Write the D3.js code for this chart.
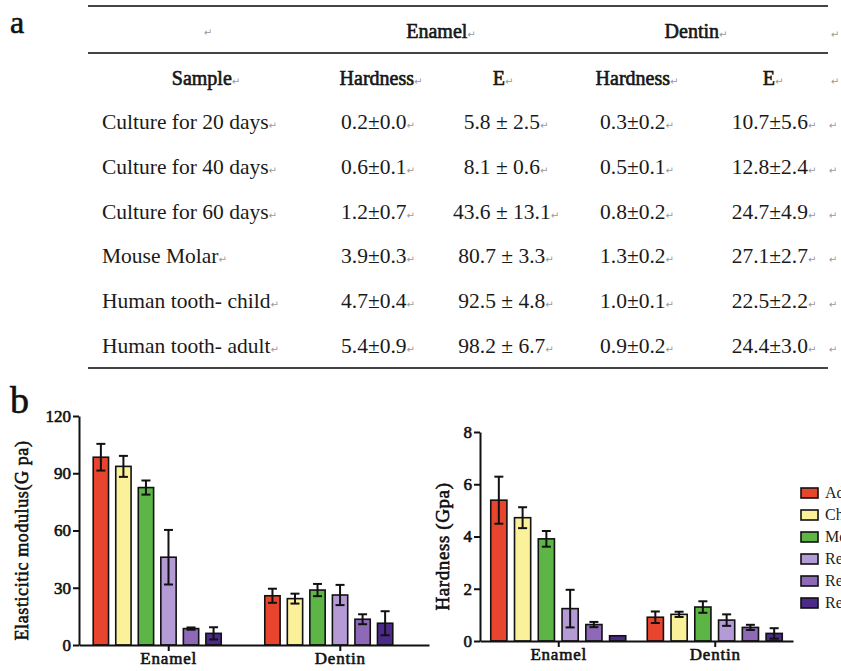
<!DOCTYPE html>
<html>
<head>
<meta charset="utf-8">
<script src="https://cdn.jsdelivr.net/npm/d3@7"></script>
<style>
  body { margin: 0; background: #fff; }
  svg { display: block; }
  /* Times-like bold: the serif bold face falls back to sans here */
  .fb { font-weight: normal; stroke: #111; stroke-width: 0.6px; }
</style>
</head>
<body>
<script>
// table (panel a)
const samples = [
  "Culture for 20 days",
  "Culture for 40 days",
  "Culture for 60 days",
  "Mouse Molar",
  "Human tooth- child",
  "Human tooth- adult",
];
const enamelHardness = ["0.2±0.0", "0.6±0.1", "1.2±0.7", "3.9±0.3", "4.7±0.4", "5.4±0.9"];
const enamelE = ["5.8 ± 2.5", "8.1 ± 0.6", "43.6 ± 13.1", "80.7 ± 3.3", "92.5 ± 4.8", "98.2 ± 6.7"];
const dentinHardness = ["0.3±0.2", "0.5±0.1", "0.8±0.2", "1.3±0.2", "1.0±0.1", "0.9±0.2"];
const dentinE = ["10.7±5.6", "12.8±2.4", "24.7±4.9", "27.1±2.7", "22.5±2.2", "24.4±3.0"];

// bar charts (panel b)
const groups = ["Enamel", "Dentin"];
const series = ["Adult", "Child", "Mouse", "Rec 60 d", "Rec 40 d", "Rec 20 d"];
const colors = ["#e8452f", "#fbf19a", "#5db545", "#b49bd6", "#8d69b8", "#4c2a8a"];

const modulusEnamel = [98.4, 93.6, 82.5, 46.0, 8.6, 6.1];
const modulusEnamelErr = [7.0, 5.5, 3.7, 14.3, 0.6, 3.2];
const modulusDentin = [25.8, 24.3, 28.8, 26.2, 13.5, 11.4];
const modulusDentinErr = [3.7, 2.6, 3.2, 5.3, 2.6, 6.3];

const hardnessEnamel = [5.39, 4.72, 3.91, 1.24, 0.63, 0.2];
const hardnessEnamelErr = [0.9, 0.4, 0.3, 0.72, 0.1, 0];
const hardnessDentin = [0.91, 1.02, 1.3, 0.8, 0.52, 0.29];
const hardnessDentinErr = [0.22, 0.1, 0.22, 0.22, 0.1, 0.2];

const modulusTicks = [0, 30, 60, 90, 120];
const hardnessTicks = [0, 2, 4, 6, 8];

const serif = "'Liberation Serif', 'Times New Roman', serif";
const W = 841, H = 671;

const svg = d3.select("body").append("svg")
  .attr("width", W)
  .attr("height", H)
  .attr("viewBox", [0, 0, W, H]);

// paragraph mark like in the Word table
const mark = (text) =>
  text.append("tspan")
    .attr("font-family", "'DejaVu Sans', sans-serif")
    .attr("font-size", 10)
    .attr("stroke", "none")
    .attr("fill", "#999")
    .text("↵");

// ---------- panel a ----------
svg.append("text")
  .attr("class", "fb")
  .attr("x", 10).attr("y", 33)
  .attr("font-family", serif).attr("font-size", 32)
  .attr("fill", "#111")
  .text("a");

const rule = (y) => svg.append("line")
  .attr("x1", 88).attr("x2", 828).attr("y1", y).attr("y2", y)
  .attr("stroke", "#444").attr("stroke-width", 2);
rule(6);
rule(53);
rule(368);

const table = svg.append("g").attr("font-family", serif).attr("fill", "#1a1a1a");

const headCell = (x, y, label) => {
  const t = table.append("text")
    .attr("x", x).attr("y", y)
    .attr("text-anchor", "middle")
    .attr("font-size", 20);
  if (label) t.append("tspan").attr("class", "fb").text(label);
  mark(t);
};
headCell(208, 36, null);
headCell(441, 38, "Enamel");
headCell(696, 38, "Dentin");
headCell(835, 38, null);
headCell(206, 85, "Sample");
headCell(381, 85, "Hardness");
headCell(503, 85, "E");
headCell(637, 85, "Hardness");
headCell(773, 85, "E");
headCell(835, 85, null);

const rowY = d3.scalePoint().domain(d3.range(samples.length)).range([129, 353]);
const columns = [
  { values: enamelHardness, x: 378 },
  { values: enamelE, x: 506 },
  { values: dentinHardness, x: 637 },
  { values: dentinE, x: 774 },
];

samples.forEach((s, i) => {
  const y = rowY(i);
  const t = table.append("text")
    .attr("x", 102).attr("y", y)
    .attr("font-size", 21.5);
  t.append("tspan").text(s);
  mark(t);
  columns.forEach((c) => {
    const v = table.append("text")
      .attr("x", c.x).attr("y", y)
      .attr("text-anchor", "middle")
      .attr("font-size", 21.5);
    v.append("tspan").text(c.values[i]);
    mark(v);
  });
  const e = table.append("text").attr("x", 833).attr("y", y).attr("text-anchor", "middle");
  mark(e);
});

// ---------- panel b ----------
svg.append("text")
  .attr("class", "fb")
  .attr("x", 10).attr("y", 413)
  .attr("font-family", serif).attr("font-size", 38)
  .attr("fill", "#111")
  .text("b");

const barChart = ({
  data, // [[values per series] per group]
  errors,
  ticks,
  yMax,
  xRange,
  yRange,
  groupPadding,
  groupWidth,
  barShift = 0,
  title,
  titleX,
  titleSize = 17,
}) => {
  const g = svg.append("g").attr("font-family", serif);

  const x0 = d3.scalePoint().domain(groups).range(xRange).padding(groupPadding);
  const x1 = d3.scaleBand().domain(series)
    .range([-groupWidth / 2, groupWidth / 2])
    .paddingInner(0.32).paddingOuter(0);
  const y = d3.scaleLinear().domain([0, yMax]).range(yRange);

  groups.forEach((grp, gi) => {
    const gg = g.append("g")
      .attr("transform", `translate(${x0(grp) + barShift},0)`);
    const rows = series.map((s, i) => ({ s, i, v: data[gi][i], e: errors[gi][i] }));

    gg.selectAll("rect")
      .data(rows)
      .join("rect")
      .attr("x", (d) => x1(d.s))
      .attr("y", (d) => y(d.v))
      .attr("width", x1.bandwidth())
      .attr("height", (d) => y(0) - y(d.v))
      .attr("fill", (d) => colors[d.i])
      .attr("stroke", "#111")
      .attr("stroke-width", 1.6);

    const eb = gg.selectAll("g.err")
      .data(rows.filter((d) => d.e > 0))
      .join("g")
      .attr("class", "err")
      .attr("stroke", "#111")
      .attr("stroke-width", 2);
    const cx = (d) => x1(d.s) + x1.bandwidth() / 2;
    eb.append("line")
      .attr("x1", cx).attr("x2", cx)
      .attr("y1", (d) => y(d.v + d.e))
      .attr("y2", (d) => y(Math.max(0, d.v - d.e)));
    [1, -1].forEach((sign) => {
      eb.append("line")
        .attr("x1", (d) => cx(d) - 4.5).attr("x2", (d) => cx(d) + 4.5)
        .attr("y1", (d) => y(Math.max(0, d.v + sign * d.e)))
        .attr("y2", (d) => y(Math.max(0, d.v + sign * d.e)));
    });
  });

  // axes
  const yAxis = g.append("g")
    .attr("transform", `translate(${xRange[0]},0)`)
    .call(d3.axisLeft(y).tickValues(ticks).tickSize(6).tickPadding(2).tickSizeOuter(0));
  yAxis.select(".domain").attr("stroke", "#111").attr("stroke-width", 2);
  yAxis.selectAll(".tick line").attr("stroke", "#111").attr("stroke-width", 2);
  yAxis.selectAll(".tick text")
    .attr("class", "fb")
    .attr("font-family", serif).attr("font-size", 17)
    .attr("fill", "#111");

  const xAxis = g.append("g")
    .attr("transform", `translate(0,${yRange[0]})`)
    .call(d3.axisBottom(x0).tickSize(6).tickPadding(1).tickSizeOuter(0));
  xAxis.select(".domain").attr("stroke", "#111").attr("stroke-width", 2);
  xAxis.selectAll(".tick line").attr("stroke", "#111").attr("stroke-width", 2);
  xAxis.selectAll(".tick text")
    .attr("class", "fb")
    .attr("font-family", serif).attr("font-size", 17)
    .attr("letter-spacing", 0.8)
    .attr("fill", "#111");

  g.append("text")
    .attr("class", "fb")
    .attr("transform", `translate(${titleX},${(yRange[0] + yRange[1]) / 2 + 10}) rotate(-90)`)
    .attr("text-anchor", "middle")
    .attr("font-size", titleSize)
    .attr("letter-spacing", 0.6)
    .attr("fill", "#111")
    .text(title);
};

barChart({
  data: [modulusEnamel, modulusDentin],
  errors: [modulusEnamelErr, modulusDentinErr],
  ticks: modulusTicks,
  yMax: 120,
  xRange: [79, 429],
  yRange: [645, 416],
  groupPadding: 0.52,
  groupWidth: 128,
  barShift: -11,
  title: "Elasticitic modulus(G pa)",
  titleX: 28,
  titleSize: 18,
});

barChart({
  data: [hardnessEnamel, hardnessDentin],
  errors: [hardnessEnamelErr, hardnessDentinErr],
  ticks: hardnessTicks,
  yMax: 8,
  xRange: [480, 793],
  yRange: [641, 432],
  groupPadding: 0.5,
  groupWidth: 135,
  title: "Hardness (Gpa)",
  titleX: 449,
  titleSize: 19,
});

// legend
const legend = svg.append("g").attr("font-family", serif).attr("font-size", 16);
const legendY = d3.scalePoint().domain(series).range([493, 603]);
series.forEach((s, i) => {
  legend.append("rect")
    .attr("x", 801).attr("y", legendY(s) - 5)
    .attr("width", 17).attr("height", 10)
    .attr("fill", colors[i])
    .attr("stroke", "#111").attr("stroke-width", 1.6);
  legend.append("text")
    .attr("x", 825).attr("y", legendY(s) + 5)
    .attr("fill", "#222")
    .text(s);
});
</script>
</body>
</html>
